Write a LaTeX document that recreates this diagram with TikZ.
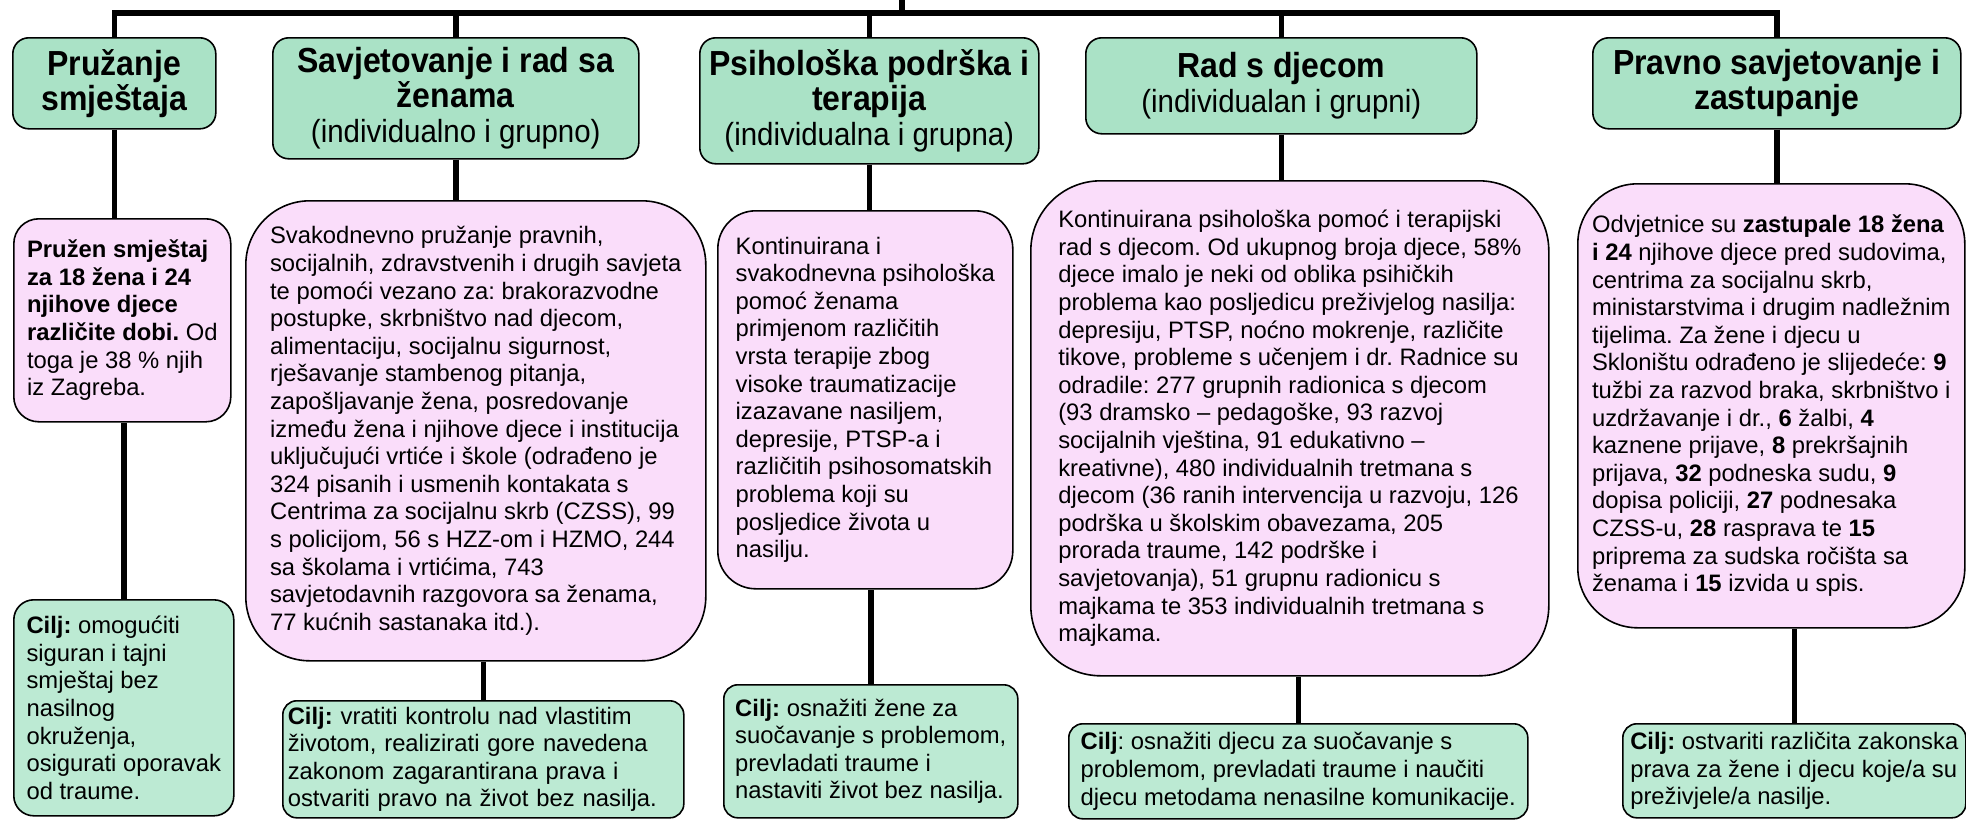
\documentclass[tikz,border=0pt]{standalone}
\usepackage{fontspec}
\setmainfont{Liberation Sans}
\newfontfamily\narrowfont[FakeStretch=0.92]{Liberation Sans}
\definecolor{headgreen}{RGB}{170,226,198}
\definecolor{goalgreen}{RGB}{188,234,211}
\definecolor{infopink}{RGB}{250,221,250}
\frenchspacing

\begin{document}
\begin{tikzpicture}[x=0.5pt, y=-0.5pt,
	headbox/.style={draw, line width=0.8pt, fill=headgreen, rounded corners=8pt, anchor=north west, align=center, inner sep=0pt, font=\narrowfont\fontsize{17.4}{17.5}\selectfont},
	infobox/.style={draw, line width=0.8pt, fill=infopink, anchor=north west, align=left, inner sep=0pt, font=\fontsize{11.9}{13.8}\selectfont},
	goalbox/.style={draw, line width=0.8pt, fill=goalgreen, rounded corners=7pt, anchor=north west, align=left, inner sep=0pt, font=\fontsize{11.9}{13.8}\selectfont},
	link/.style={line width=2.8pt}]
					\useasboundingbox (0,0) rectangle (1966,820);
					\coordinate (root) at (902,0);
					\coordinate (bus) at (902,13);
					% headers
					\node[headbox, minimum width=101.5pt, minimum height=45.5pt] at (12,37)(h1){\textbf{Pružanje}\\\textbf{smještaja}};
					\node[headbox, minimum width=183pt, minimum height=60.5pt] at (272,37)(h2){\textbf{Savjetovanje i rad sa}\\\textbf{ženama}\\{\fontsize{16}{17}\selectfont(individualno i grupno)}};
					\node[headbox, minimum width=169.5pt, minimum height=63pt] at (699,37)(h3){\textbf{Psihološka podrška i}\\\textbf{terapija}\\{\fontsize{16}{17}\selectfont(individualna i grupna)}};
					\node[headbox, minimum width=195.5pt, minimum height=48pt] at (1085,37)(h4){\textbf{Rad s djecom}\\{\fontsize{16}{17}\selectfont(individualan i grupni)}};
					\node[headbox, minimum width=184pt, minimum height=45.5pt] at (1592,37)(h5){\textbf{Pravno savjetovanje i}\\\textbf{zastupanje}};
					% activities
					\node[infobox, rounded corners=12.5pt, minimum width=108.5pt, minimum height=101.5pt] at (13,218)(p1){\textbf{Pružen smještaj}\\\textbf{za 18 žena i 24}\\\textbf{njihove djece}\\\textbf{različite dobi.} Od\\toga je 38 \% njih\\iz Zagreba.};
					\node[infobox, rounded corners=32pt, minimum width=230pt, minimum height=230pt] at (245,200)(p2){Svakodnevno pružanje pravnih,\\socijalnih, zdravstvenih i drugih savjeta\\te pomoći vezano za: brakorazvodne\\postupke, skrbništvo nad djecom,\\alimentaciju, socijalnu sigurnost,\\rješavanje stambenog pitanja,\\zapošljavanje žena, posredovanje\\između žena i njihove djece i institucija\\uključujući vrtiće i škole (odrađeno je\\324 pisanih i usmenih kontakata s\\Centrima za socijalnu skrb (CZSS), 99\\s policijom, 56 s HZZ-om i HZMO, 244\\sa školama i vrtićima, 743\\savjetodavnih razgovora sa ženama,\\77 kućnih sastanaka itd.).};
					\node[infobox, rounded corners=19pt, minimum width=147.5pt, minimum height=189pt] at (717,210)(p3){Kontinuirana i\\svakodnevna psihološka\\pomoć ženama\\primjenom različitih\\vrsta terapije zbog\\visoke traumatizacije\\izazavane nasiljem,\\depresije, PTSP-a i\\različitih psihosomatskih\\problema koji su\\posljedice života u\\nasilju.};
					\node[infobox, rounded corners=35pt, minimum width=259pt, minimum height=247.5pt] at (1030,180)(p4){Kontinuirana psihološka pomoć i terapijski\\rad s djecom. Od ukupnog broja djece, 58\%\\djece imalo je neki od oblika psihičkih\\problema kao posljedicu preživjelog nasilja:\\depresiju, PTSP, noćno mokrenje, različite\\tikove, probleme s učenjem i dr. Radnice su\\odradile: 277 grupnih radionica s djecom\\(93 dramsko – pedagoške, 93 razvoj\\socijalnih vještina, 91 edukativno –\\kreativne), 480 individualnih tretmana s\\djecom (36 ranih intervencija u razvoju, 126\\podrška u školskim obavezama, 205\\prorada traume, 142 podrške i\\savjetovanja), 51 grupnu radionicu s\\majkama te 353 individualnih tretmana s\\majkama.};
					\node[infobox, rounded corners=30pt, minimum width=193.5pt, minimum height=222pt] at (1577,183)(p5){Odvjetnice su \textbf{zastupale 18 žena}\\\textbf{i 24} njihove djece pred sudovima,\\centrima za socijalnu skrb,\\ministarstvima i drugim nadležnim\\tijelima. Za žene i djecu u\\Skloništu odrađeno je slijedeće: \textbf{9}\\tužbi za razvod braka, skrbništvo i\\uzdržavanje i dr., \textbf{6} žalbi, \textbf{4}\\kaznene prijave, \textbf{8} prekršajnih\\prijava, \textbf{32} podneska sudu, \textbf{9}\\dopisa policiji, \textbf{27} podnesaka\\CZSS-u, \textbf{28} rasprava te \textbf{15}\\priprema za sudska ročišta sa\\ženama i \textbf{15} izvida u spis.};
					% goals
					\node[goalbox, rounded corners=10pt, minimum width=110pt, minimum height=108pt] at (13,599)(g1){\textbf{Cilj:} omogućiti\\siguran i tajni\\smještaj bez\\nasilnog\\okruženja,\\osigurati oporavak\\od traume.};
					\node[goalbox, inner xsep=2.5pt, text width=195.5pt, minimum height=58.5pt] at (282,700)(g2){\textbf{Cilj:} vratiti kontrolu nad vlastitim\\životom, realizirati gore navedena\\zakonom zagarantirana prava i\\ostvariti pravo na život bez nasilja.};
					\node[goalbox, minimum width=147pt, minimum height=66.5pt] at (723,684)(g3){\textbf{Cilj:} osnažiti žene za\\suočavanje s problemom,\\prevladati traume i\\nastaviti život bez nasilja.};
					\node[goalbox, minimum width=229.5pt, minimum height=47.5pt] at (1068,723)(g4){\textbf{Cilj}: osnažiti djecu za suočavanje s\\problemom, prevladati traume i naučiti\\djecu metodama nenasilne komunikacije.};
					\node[goalbox, minimum width=171.5pt, minimum height=47pt] at (1622,723)(g5){\textbf{Cilj:} ostvariti različita zakonska\\prava za žene i djecu koje/a su\\preživjele/a nasilje.};
					% tree lines
					\draw[link] (root) -- (bus);
					\draw[link] (h1.north) |- (bus) -| (h5.north);
					\draw[link] (h2.north) -- (h2.north |- bus);
					\draw[link] (h3.north) -- (h3.north |- bus);
					\draw[link] (h4.north) -- (h4.north |- bus);
					\draw[link] (h1.south) -- (h1.south |- p1.north);
					\draw[link] (h2.south) -- (h2.south |- p2.north);
					\draw[link] (h3.south) -- (h3.south |- p3.north);
					\draw[link] (h4.south) -- (h4.south |- p4.north);
					\draw[link] (h5.south) -- (h5.south |- p5.north);
					\draw[link] (g1.north) -- (g1.north |- p1.south);
					\draw[link] (g2.north) -- (g2.north |- p2.south);
					\draw[link] (g3.north) -- (g3.north |- p3.south);
					\draw[link] (g4.north) -- (g4.north |- p4.south);
					\draw[link] (g5.north) -- (g5.north |- p5.south);
				\end{tikzpicture}
\end{document}
